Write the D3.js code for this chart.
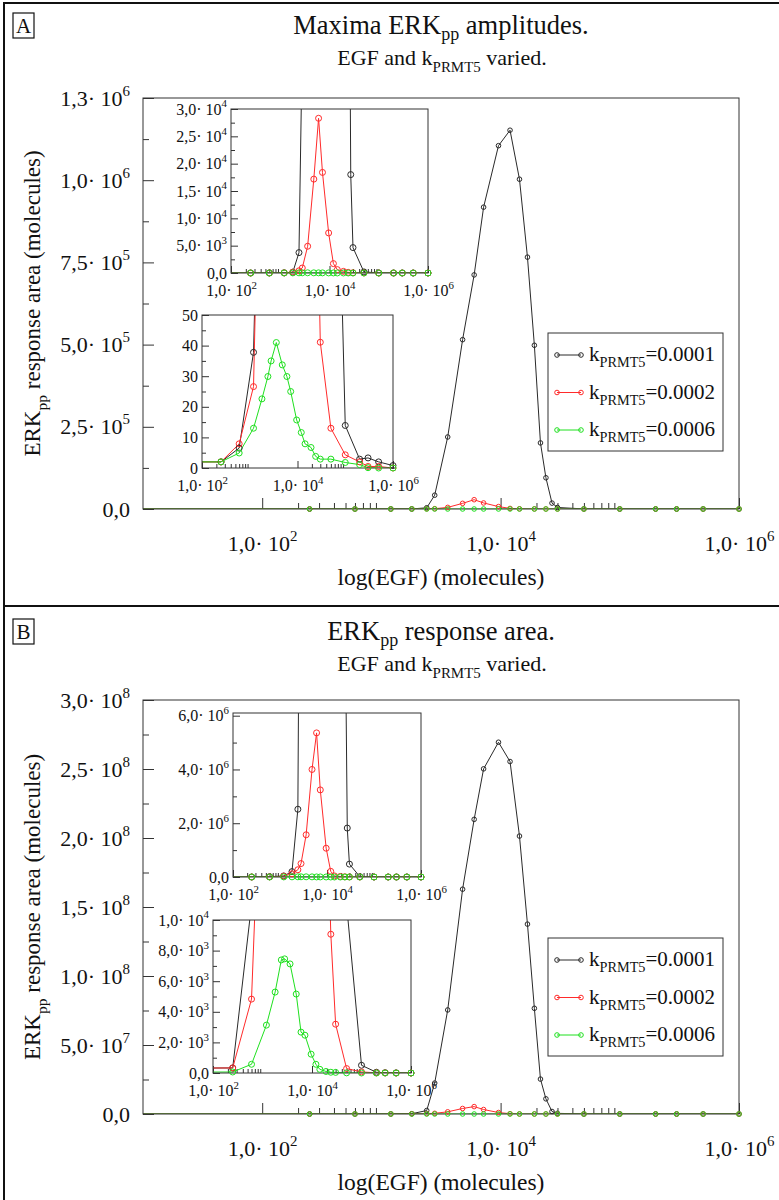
<!DOCTYPE html>
<html>
<head>
<meta charset="utf-8">
<script src="https://cdn.jsdelivr.net/npm/d3@7"></script>
<style>
body{margin:0;background:#fff;}
svg text{font-family:"Liberation Serif","DejaVu Serif",serif !important;fill:#111;}
</style>
</head>
<body>
<svg id="fig" width="779" height="1200" font-family="Liberation Serif, DejaVu Serif, serif"></svg>
<script>
// EGF values (molecules); the k=0.0001 runs use a finer grid on the falling side
const egf = [1, 250, 600, 1200, 1800, 2400, 2800, 3600, 4800, 6000, 7200, 9600, 12000, 14400, 19200, 24000, 30000, 50000, 1e5, 2e5, 3e5, 5e5, 1e6];
const egfFine = [1, 250, 600, 1200, 1800, 2400, 2800, 3600, 4800, 6000, 7200, 9600, 12000, 14400, 16800, 19200, 21600, 24000, 27000, 30000, 50000, 1e5, 2e5, 3e5, 5e5, 1e6];

const kLabels = ["0.0001", "0.0002", "0.0006"];

// A: maxima ERKpp amplitudes
const ampK1 = [2, 2, 6.5, 37.8, 150, 3730, 42000, 219000, 515000, 712000, 918000, 1105000, 1152000, 1003000, 766000, 498000, 201000, 95000, 18000, 4650, 200, 13.9, 2.9, 3.3, 2.0, 0.8];
const ampK2 = [2, 2, 7.9, 26.6, 150, 400, 916, 4893, 17170, 28300, 18400, 7330, 1720, 620, 300, 120, 41.1, 13.0, 4.3, 2.0, 0.5, 0.5, 0];
const ampK6 = [2, 2.0, 4.9, 13.0, 22.6, 29.9, 35.0, 41.0, 33.7, 29.9, 25.0, 15.7, 11.6, 7.9, 6.7, 3.8, 2.9, 2.9, 1.8, 1.1, 0.1, 0, 0];

// B: ERKpp response area
const areaK1 = [300, 330, 11000, 40000, 200000, 2520000, 22400000, 75400000, 162900000, 213500000, 250100000, 269400000, 255400000, 201400000, 137600000, 76600000, 25300000, 11000000, 1820000, 480000, 11000, 505, 50, 20, 10, 0];
const areaK2 = [300, 330, 4830, 30000, 120000, 270000, 500000, 1570000, 4000000, 5360000, 3240000, 1070000, 210000, 40000, 20000, 9070, 3190, 290, 70, 10, 5, 0, 0];
const areaK6 = [50, 66, 570, 3130, 5290, 7390, 7460, 7130, 5160, 2670, 2470, 1230, 570, 240, 100, 50, 40, 10, 0, 0, 0, 0, 0];

// axis ticks
const xMajor = [1e2, 1e4, 1e6];
const xMinor = d3.range(2, 10).flatMap(k => [k * 1e2, k * 1e4]);
const ampTicks = [0, 2.5e5, 5e5, 7.5e5, 1e6, 1.25e6];
const ampInsetTicks = [0, 5e3, 1e4, 1.5e4, 2e4, 2.5e4, 3e4];
const ampZoomTicks = [0, 10, 20, 30, 40, 50];
const areaTicks = [0, 5e7, 1e8, 1.5e8, 2e8, 2.5e8, 3e8];
const areaInsetTicks = [0, 2e6, 4e6, 6e6];
const areaZoomTicks = [0, 2e3, 4e3, 6e3, 8e3, 1e4];

const colors = ["#2a2a2a", "#ff2b2b", "#1fe01f"];
const FONT = "Liberation Serif, DejaVu Serif, serif";
const svg = d3.select("#fig");

function zip(xs, ys) { return xs.map((v, i) => [v, ys[i]]); }

// "1,0· 10^4" style labels
function sciParts(v) {
  if (v === 0) return ["0,0", null];
  const e = Math.floor(Math.log10(v) + 1e-9);
  return [(v / Math.pow(10, e)).toFixed(1).replace(".", ",") + "\u00b7 10", String(e)];
}
function writeLabel(text, parts, fs) {
  text.text(null).attr("font-size", fs).attr("font-family", FONT);
  text.append("tspan").text(parts[0]);
  if (parts[1] !== null) text.append("tspan").attr("dy", -fs * 0.45).attr("font-size", fs * 0.68).text(parts[1]);
}

let clipN = 0;
function drawPlot(parent, c, series) {
  const g = parent.append("g");
  const x = d3.scaleLog().domain(c.xDomain).range([c.x0, c.x1]);
  const y = d3.scaleLinear().domain(c.yDomain).range([c.y1, c.y0]);
  g.append("rect").attr("x", c.x0).attr("y", c.y0).attr("width", c.x1 - c.x0).attr("height", c.y1 - c.y0).attr("fill", "#fff");
  const id = "clip" + (clipN++);
  g.append("clipPath").attr("id", id).append("rect")
    .attr("x", c.x0).attr("y", c.y0).attr("width", c.x1 - c.x0).attr("height", c.y1 - c.y0);

  // y minor + major ticks (inward)
  g.append("g").attr("transform", `translate(${c.x0},0)`)
    .call(d3.axisLeft(y).tickValues(c.yMinor).tickSize(-c.minLen).tickFormat(""))
    .call(s => s.select(".domain").remove());
  const ya = g.append("g").attr("transform", `translate(${c.x0},0)`)
    .call(d3.axisLeft(y).tickValues(c.yTicks).tickSize(-c.majLen).tickPadding(c.yPad))
    .call(s => s.select(".domain").remove());
  ya.selectAll(".tick text").each(function (d) {
    const parts = c.sci ? sciParts(d) : [String(d), null];
    writeLabel(d3.select(this), parts, c.fs);
  });
  // x minor + major ticks
  g.append("g").attr("transform", `translate(0,${c.y1})`)
    .call(d3.axisBottom(x).tickValues(xMinor).tickSize(-c.minLen).tickFormat(""))
    .call(s => s.select(".domain").remove());
  const xa = g.append("g").attr("transform", `translate(0,${c.y1})`)
    .call(d3.axisBottom(x).tickValues(xMajor).tickSize(-c.majLen).tickPadding(c.xPad))
    .call(s => s.select(".domain").remove());
  xa.selectAll(".tick text").each(function (d) { writeLabel(d3.select(this), sciParts(d), c.fs); });
  g.selectAll(".tick line").attr("stroke", "#333");
  g.selectAll("g").attr("font-family", FONT);

  const line = d3.line().x(d => x(d[0])).y(d => y(d[1]));
  const lg = g.append("g").attr("clip-path", `url(#${id})`);
  series.forEach((s, i) => {
    lg.append("path").attr("d", line(s)).attr("fill", "none").attr("stroke", colors[i]).attr("stroke-width", 1);
  });
  g.append("rect").attr("x", c.x0).attr("y", c.y0).attr("width", c.x1 - c.x0).attr("height", c.y1 - c.y0)
    .attr("fill", "none").attr("stroke", "#333").attr("stroke-width", 1);
  series.forEach((s, i) => {
    g.append("g").selectAll("circle")
      .data(s.filter(d => d[0] >= c.xDomain[0] && d[0] <= c.xDomain[1] && d[1] <= c.yDomain[1]))
      .join("circle")
      .attr("cx", d => x(d[0])).attr("cy", d => y(d[1])).attr("r", c.r)
      .attr("fill", "none").attr("stroke", colors[i]).attr("stroke-width", 1);
  });
}

function subText(parent, xPos, yPos, pieces, fs, anchor, sub) {
  const t = parent.append("text").attr("x", xPos).attr("y", yPos).attr("font-size", fs)
    .attr("font-family", FONT).attr("text-anchor", anchor || "middle");
  let shift = 0;
  pieces.forEach(p => {
    const sp = t.append("tspan").text(p[0]);
    const want = p[1] ? fs * (sub || 0.3) : 0;
    if (want !== shift) { sp.attr("dy", want - shift); shift = want; }
    if (p[1]) sp.attr("font-size", fs * 0.68);
  });
  return t;
}

function drawPanel(p) {
  const g = svg.append("g");
  // panel letter
  g.append("rect").attr("x", 13).attr("y", p.top + 10).attr("width", 21).attr("height", 25)
    .attr("fill", "none").attr("stroke", "#111").attr("stroke-width", 1.2);
  g.append("text").attr("x", 23.5).attr("y", p.top + 30).attr("text-anchor", "middle")
    .attr("font-family", FONT).attr("font-size", 21).text(p.letter);
  subText(g, 441, p.top + 31, p.title, 26.5, "middle", 0.24);
  subText(g, 442, p.top + 62, [["EGF and k", 0], ["PRMT5", 1], [" varied.", 0]], 22);

  const main = {
    x0: 143, x1: 739, y0: p.y0, y1: p.y1, xDomain: [10, 1e6], yDomain: p.yDomain,
    yTicks: p.yTicks, yMinor: p.yMinor, sci: true, fs: 22, majLen: 11, minLen: 6,
    yPad: 13, xPad: 26, r: 2.3
  };
  drawPlot(g, main, p.series);
  p.insets.forEach(ins => drawPlot(g, Object.assign({ xDomain: [1e2, 1e6], fs: 16, majLen: 7, minLen: 4, yPad: 4, xPad: 12, r: 3 }, ins), p.series));

  // axis titles
  const yt = subText(g, 0, 0, [["ERK", 0], ["pp", 1], [" response area (molecules)", 0]], 23);
  yt.attr("x", null).attr("y", null).attr("transform", `translate(40,${(p.y0 + p.y1) / 2}) rotate(-90)`);
  g.append("text").attr("x", 441).attr("y", p.y1 + 76).attr("text-anchor", "middle")
    .attr("font-family", FONT).attr("font-size", 23.5).text("log(EGF) (molecules)");

  // legend
  const L = p.legend;
  g.append("rect").attr("x", L.x).attr("y", L.y).attr("width", 175).attr("height", 118)
    .attr("fill", "#fff").attr("stroke", "#333").attr("stroke-width", 1);
  kLabels.forEach((k, i) => {
    const yy = L.y + 22 + i * 37.5;
    g.append("line").attr("x1", L.x + 9).attr("x2", L.x + 33).attr("y1", yy).attr("y2", yy).attr("stroke", colors[i]);
    [L.x + 9, L.x + 33].forEach(cx => g.append("circle").attr("cx", cx).attr("cy", yy).attr("r", 2.3)
      .attr("fill", "none").attr("stroke", colors[i]));
    subText(g, L.x + 41, yy + 6, [["k", 0], ["PRMT5", 1], ["=" + k, 0]], 21, "start");
  });
}

drawPanel({
  letter: "A", top: 3,
  title: [["Maxima ERK", 0], ["pp", 1], [" amplitudes.", 0]],
  y0: 98, y1: 509, yDomain: [0, 1.25e6], yTicks: ampTicks, yMinor: d3.range(1.25e5, 1.25e6, 2.5e5),
  series: [zip(egfFine, ampK1), zip(egf, ampK2), zip(egf, ampK6)],
  insets: [
    { x0: 231, x1: 428, y0: 109, y1: 273, yDomain: [0, 3e4], yTicks: ampInsetTicks, yMinor: d3.range(2500, 3e4, 5000), sci: true },
    { x0: 202, x1: 393, y0: 315, y1: 468, yDomain: [0, 50], yTicks: ampZoomTicks, yMinor: d3.range(5, 50, 10), sci: false }
  ],
  legend: { x: 548, y: 333 }
});

drawPanel({
  letter: "B", top: 609,
  title: [["ERK", 0], ["pp", 1], [" response area.", 0]],
  y0: 700, y1: 1114, yDomain: [0, 3e8], yTicks: areaTicks, yMinor: d3.range(2.5e7, 3e8, 5e7),
  series: [zip(egfFine, areaK1), zip(egf, areaK2), zip(egf, areaK6)],
  insets: [
    { x0: 233, x1: 421, y0: 713, y1: 877, yDomain: [0, 6.1e6], yTicks: areaInsetTicks, yMinor: [1e6, 3e6, 5e6], sci: true },
    { x0: 213, x1: 411, y0: 920, y1: 1073, yDomain: [0, 1e4], yTicks: areaZoomTicks, yMinor: d3.range(1e3, 1e4, 2e3), sci: true }
  ],
  legend: { x: 548, y: 938 }
});

// outer frame
svg.append("path").attr("d", "M4,1200V3H779M4,606H779").attr("fill", "none").attr("stroke", "#111").attr("stroke-width", 2);
</script>
</body>
</html>
